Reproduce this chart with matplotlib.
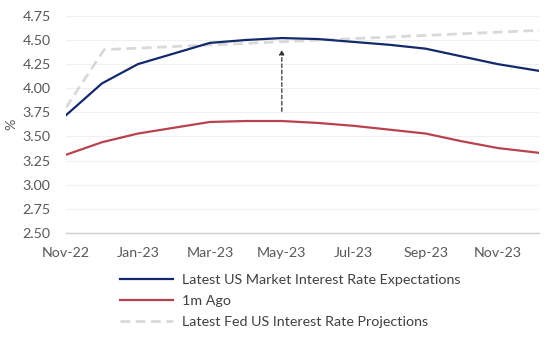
import matplotlib
matplotlib.use('agg')

import matplotlib.pyplot as plt
import matplotlib.ticker as ticker
import numpy as np

# months after Nov-22
months = [0, 1, 2, 3, 4, 5, 6, 7, 8, 9, 10, 11, 12, 13.15]
latest = [3.72, 4.05, 4.25, 4.36, 4.47, 4.50, 4.52, 4.51, 4.48, 4.45, 4.41, 4.33, 4.25, 4.18]
month_ago = [3.31, 3.44, 3.53, 3.59, 3.65, 3.66, 3.66, 3.64, 3.61, 3.57, 3.53, 3.45, 3.38, 3.33]

fed_months = [0, 1.06, 13.15]
fed = [3.80, 4.40, 4.60]

arrow_x = 6
arrow_from, arrow_to = 3.76, 4.40

tick_pos = [0, 2, 4, 6, 8, 10, 12]
tick_labels = ['Nov-22', 'Jan-23', 'Mar-23', 'May-23', 'Jul-23', 'Sep-23', 'Nov-23']

plt.rcParams['font.family'] = ['Lato', 'DejaVu Sans']
grey_txt = '#595959'
fs = 10.3

fig, ax = plt.subplots(figsize=(5.5, 3.38), dpi=100)
fig.subplots_adjust(left=0.12, right=0.98, bottom=0.311, top=0.953)

ax.plot(months, latest, color='#14296B', lw=1.6,
        label='Latest US Market Interest Rate Expectations', zorder=4)
ax.plot(months, month_ago, color='#B8434F', lw=1.6, label='1m Ago', zorder=3)
ax.plot(fed_months, fed, color='#D9D9D9', lw=2.0, ls=(0, (3.5, 2)),
        label='Latest Fed US Interest Rate Projections', zorder=2)

ax.annotate('', xy=(arrow_x, arrow_to), xytext=(arrow_x, arrow_from),
            arrowprops=dict(arrowstyle='-|>', color='#333333', lw=0.9,
                            ls=(0, (3, 2)), mutation_scale=7, shrinkA=0, shrinkB=0))

ax.set_xlim(0, 13.15)
ax.set_ylim(2.5, 4.75)
ax.yaxis.set_major_locator(ticker.MultipleLocator(0.25))
ax.yaxis.set_major_formatter(ticker.FormatStrFormatter('%.2f'))
ax.set_xticks(tick_pos)
ax.set_xticklabels(tick_labels)
ax.tick_params(length=0, labelsize=fs, colors=grey_txt, pad=10)
ax.tick_params('y', pad=11)
ax.grid(axis='y', color='#F0F0F0', lw=0.8)
ax.set_axisbelow(True)
for s in ['top', 'right', 'left']:
    ax.spines[s].set_visible(False)
ax.spines['bottom'].set_color('#D0D0D0')
ax.spines['bottom'].set_linewidth(1.0)
ax.set_ylabel('%', fontsize=fs, color=grey_txt, labelpad=4)

fig.legend(loc='upper left', bbox_to_anchor=(0.208, 0.207), frameon=False,
           fontsize=fs, handlelength=3.7, handletextpad=0.63,
           labelspacing=0.62, labelcolor='#404040', borderaxespad=0)

fig.savefig('out.png', dpi=100)
